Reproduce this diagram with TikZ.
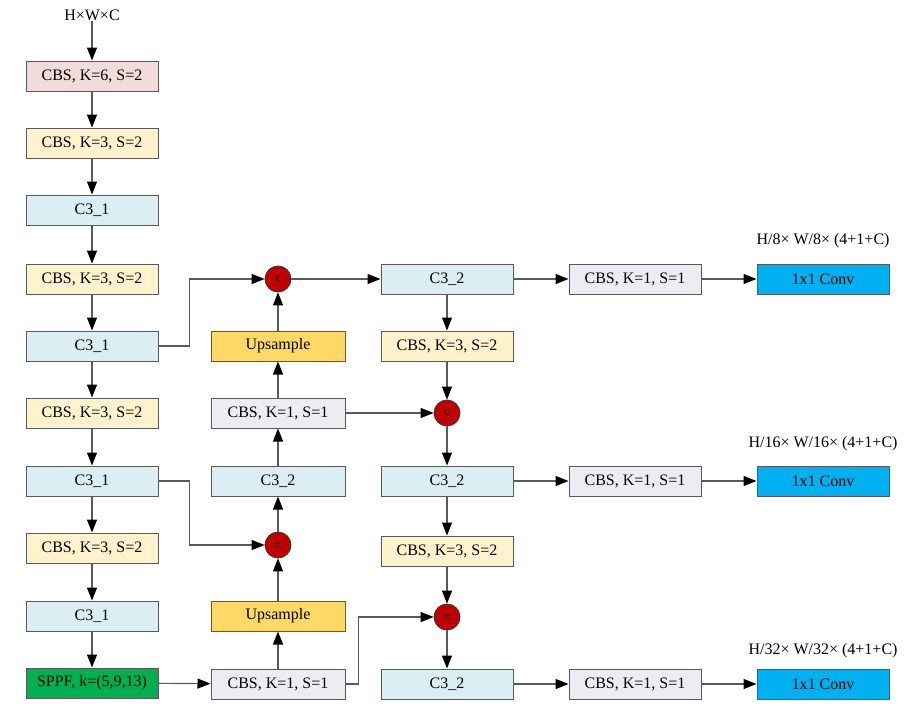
\documentclass[tikz,border=0pt]{standalone}
\usepackage{fontspec}
\setmainfont{Liberation Serif}
\usetikzlibrary{arrows.meta}
\definecolor{cbssix}{HTML}{F2DCDB}
\definecolor{cbsthree}{HTML}{FFF2CC}
\definecolor{cthree}{HTML}{DAEEF3}
\definecolor{upcol}{HTML}{FFD966}
\definecolor{cbsone}{HTML}{EEECF3}
\definecolor{sppfcol}{HTML}{00B050}
\definecolor{catcol}{HTML}{C00000}
\definecolor{convcol}{HTML}{00B0F0}
\definecolor{edgecol}{HTML}{595959}
\tikzset{
	blk/.style={draw=edgecol, line width=1pt, minimum width=132pt, minimum height=30pt, inner sep=0pt, font=\fontsize{16}{19}\selectfont},
	cat/.style={circle, draw=black!80, line width=0.8pt, fill=catcol, minimum size=26pt, inner sep=0pt, font=\fontsize{11}{13}\selectfont},
	txt/.style={inner sep=0pt, font=\fontsize{16}{19}\selectfont},
	wire/.style={draw=black!65, line width=1.1pt},
	link/.style={wire, -{Triangle[length=13pt,width=10pt,color=black]}},
}

\begin{document}
\begin{tikzpicture}[x=1pt, y=-1pt]
		%%%%% START %%%%%
		\useasboundingbox (0,0) rectangle (920,715);
		
		% backbone
		\node[txt] (inp) at (92, 15) {H×W×C};
		\node[blk, fill=cbssix] (b1) at (92, 76) {CBS, K=6, S=2};
		\node[blk, fill=cbsthree] (b2) at (92, 143) {CBS, K=3, S=2};
		\node[blk, fill=cthree] (b3) at (92, 210) {C3\_1};
		\node[blk, fill=cbsthree] (b4) at (92, 279) {CBS, K=3, S=2};
		\node[blk, fill=cthree] (b5) at (92, 346) {C3\_1};
		\node[blk, fill=cbsthree] (b6) at (92, 413) {CBS, K=3, S=2};
		\node[blk, fill=cthree] (b7) at (92, 481) {C3\_1};
		\node[blk, fill=cbsthree] (b8) at (92, 548) {CBS, K=3, S=2};
		\node[blk, fill=cthree] (b9) at (92, 616) {C3\_1};
		\node[blk, fill=sppfcol] (sppf) at (92, 683) {SPPF, k=(5,9,13)};
		
		% neck, up path
		\node[cat] (u1) at (278, 279) {c};
		\node[blk, minimum width=134pt, fill=upcol] (up1) at (278, 346) {Upsample};
		\node[blk, minimum width=134pt, fill=cbsone] (n2) at (278, 413) {CBS, K=1, S=1};
		\node[blk, minimum width=134pt, fill=cthree] (n3) at (278, 481) {C3\_2};
		\node[cat] (u2) at (278, 545) {c};
		\node[blk, minimum width=134pt, fill=upcol] (up2) at (278, 616) {Upsample};
		\node[blk, minimum width=134pt, fill=cbsone] (n1) at (278, 684) {CBS, K=1, S=1};
		
		% neck, down path
		\node[blk, fill=cthree] (p1) at (447, 279) {C3\_2};
		\node[blk, fill=cbsthree] (p2) at (447, 346) {CBS, K=3, S=2};
		\node[cat] (d1) at (447, 413) {c};
		\node[blk, fill=cthree] (p3) at (447, 481) {C3\_2};
		\node[blk, fill=cbsthree] (p4) at (447, 551) {CBS, K=3, S=2};
		\node[cat] (d2) at (447, 617) {c};
		\node[blk, fill=cthree] (p5) at (447, 684) {C3\_2};
		
		% heads
		\node[blk, fill=cbsone] (h1) at (635, 279) {CBS, K=1, S=1};
		\node[blk, fill=cbsone] (h2) at (635, 481) {CBS, K=1, S=1};
		\node[blk, fill=cbsone] (h3) at (635, 684) {CBS, K=1, S=1};
		\node[blk, fill=convcol] (o1) at (823, 279) {1x1 Conv};
		\node[blk, fill=convcol] (o2) at (823, 481) {1x1 Conv};
		\node[blk, fill=convcol] (o3) at (823, 684) {1x1 Conv};
		\node[txt] (l1) at (823, 241) {H/8× W/8× (4+1+C)};
		\node[txt] (l2) at (823, 444) {H/16× W/16× (4+1+C)};
		\node[txt] (l3) at (823, 651) {H/32× W/32× (4+1+C)};
		
		% backbone arrows
		\draw[link] (inp) -- (b1);
		\foreach \a/\b in {b1/b2, b2/b3, b3/b4, b4/b5, b5/b6, b6/b7, b7/b8, b8/b9, b9/sppf}
			\draw[link] (\a) -- (\b);
		
		% lateral links
		\draw[link] (b5.east) -- ++(31,0) |- (u1.west);
		\draw[link] (b7.east) -- ++(31,0) |- (u2.west);
		\draw[link] (sppf) -- (n1);
		
		% up path
		\draw[link] (n1) -- (up2);
		\draw[link] (up2) -- (u2);
		\draw[link] (u2) -- (n3);
		\draw[link] (n3) -- (n2);
		\draw[link] (n2) -- (up1);
		\draw[link] (up1) -- (u1);
		
		% down path
		\draw[link] (u1) -- (p1);
		\draw[link] (p1) -- (p2);
		\draw[link] (p2) -- (d1);
		\draw[link] (d1) -- (p3);
		\draw[link] (p3) -- (p4);
		\draw[link] (p4) -- (d2);
		\draw[link] (d2) -- (p5);
		\draw[link] (n2) -- (d1);
		\draw[link] (n1.east) -- ++(13,0) |- (d2.west);
		
		% heads
		\foreach \i in {1,2,3} {
			\draw[link] (p\ifcase\i\or1\or3\or5\fi) -- (h\i);
			\draw[link] (h\i) -- (o\i);
		}
		%%%%% END %%%%%
\end{tikzpicture}
\end{document}
